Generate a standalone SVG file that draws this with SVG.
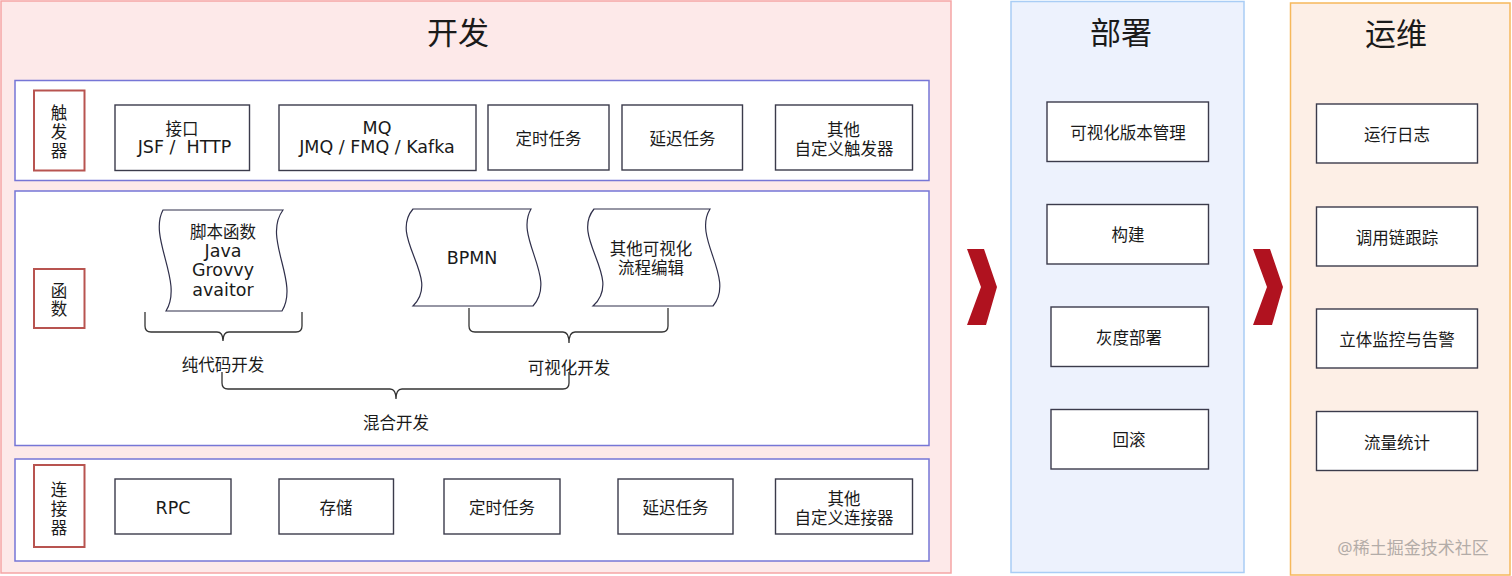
<svg xmlns="http://www.w3.org/2000/svg" width="1512" height="576" viewBox="0 0 1512 576">
<defs>
<style>
text{font-family:"Noto Sans","Noto Sans CJK SC",sans-serif;fill:#1a1a1a;text-anchor:middle;dominant-baseline:central}
.t{font-size:16.5px}
.l{font-family:"DejaVu Sans","Noto Sans CJK SC",sans-serif;font-size:17.5px}
.h{font-size:31px}
.row{fill:#ffffff;stroke:#7676d6;stroke-width:1.5}
.lbl{fill:#ffffff;stroke:#b85450;stroke-width:2}
.box{fill:#ffffff;stroke:#3b3b4b;stroke-width:1.4}
.tape{fill:#ffffff;stroke:#2f2f4a;stroke-width:1.2}
.br{fill:none;stroke:#333333;stroke-width:1.3}
.chev{fill:#b0121f}
</style>
</defs>

<g id="panel-dev">
<rect x="1" y="1" width="950" height="572" fill="#fde9e9" stroke="#f5a5a5" stroke-width="1.5"/>
<text class="h" x="458" y="32">开发</text>
</g>
<g id="panel-deploy">
<rect x="1011" y="1.5" width="233" height="571" fill="#edf2fd" stroke="#a9cdf5" stroke-width="1.5"/>
<text class="h" x="1121" y="32">部署</text>
</g>
<g id="panel-ops">
<rect x="1290.5" y="3" width="219.5" height="572" fill="#fdefe6" stroke="#f6b85b" stroke-width="1.5"/>
<text class="h" x="1396" y="33">运维</text>
</g>

<g id="row-trigger"><rect class="row" x="15" y="80.5" width="914" height="100"/></g>
<g id="row-function"><rect class="row" x="15" y="191" width="914" height="254.5"/></g>
<g id="row-connector"><rect class="row" x="15" y="459" width="914" height="102"/></g>

<g id="lbl-trigger"><rect class="lbl" x="34" y="90.5" width="50.5" height="80"/>
<text class="t" x="59" y="112">触</text><text class="t" x="59" y="131">发</text><text class="t" x="59" y="150">器</text></g>
<g id="lbl-function"><rect class="lbl" x="34" y="269" width="50.5" height="59"/>
<text class="t" x="59" y="290">函</text><text class="t" x="59" y="308">数</text></g>
<g id="lbl-connector"><rect class="lbl" x="34" y="465" width="50.5" height="82"/>
<text class="t" x="59" y="489">连</text><text class="t" x="59" y="508">接</text><text class="t" x="59" y="527">器</text></g>

<g id="t-api"><rect class="box" x="115" y="105" width="134.5" height="65.5"/>
<text class="t" x="182" y="128">接口</text><text class="l" x="184.5" y="147" xml:space="preserve">JSF /  HTTP</text></g>
<g id="t-mq"><rect class="box" x="279" y="105" width="197" height="65.5"/>
<text class="l" x="377" y="128">MQ</text><text class="l" x="377" y="147">JMQ / FMQ / Kafka</text></g>
<g id="t-timer"><rect class="box" x="488" y="105" width="121" height="65"/>
<text class="t" x="548.5" y="138">定时任务</text></g>
<g id="t-delay"><rect class="box" x="622" y="105" width="120.5" height="65"/>
<text class="t" x="682.5" y="138">延迟任务</text></g>
<g id="t-other"><rect class="box" x="775.5" y="105" width="137" height="65"/>
<text class="t" x="843.5" y="129">其他</text><text class="t" x="844" y="148">自定义触发器</text></g>

<g id="f-script"><path class="tape" d="M163,210 L283,210 C262,238 300,282 282,311 L166,311 C184,282 148,238 163,210 Z"/>
<text class="t" x="223" y="231">脚本函数</text><text class="l" x="223" y="251">Java</text><text class="l" x="223" y="270">Grovvy</text><text class="l" x="223" y="290">avaitor</text></g>
<g id="f-bpmn"><path class="tape" d="M413,209 L531,209 C514,238 558,278 533,306 L413,306 C442,278 388,238 413,209 Z"/>
<text class="l" x="472" y="258">BPMN</text></g>
<g id="f-visual"><path class="tape" d="M594,209 L710,209 C692,238 736,278 713,306 L593,306 C624,278 570,238 594,209 Z"/>
<text class="t" x="651" y="248">其他可视化</text><text class="t" x="651" y="267">流程编辑</text></g>

<g id="lbl-pure"><text class="t" x="223" y="364">纯代码开发</text></g>
<g id="lbl-visual"><text class="t" x="569" y="367.5">可视化开发</text></g>
<g id="lbl-mixed"><text class="t" x="396" y="422">混合开发</text></g>

<g id="c-rpc"><rect class="box" x="115" y="479" width="116" height="55"/><text class="l" x="173" y="507.5">RPC</text></g>
<g id="c-storage"><rect class="box" x="279" y="479" width="114.5" height="55"/><text class="t" x="336" y="507.5">存储</text></g>
<g id="c-timer"><rect class="box" x="444" y="479" width="116" height="55"/><text class="t" x="502" y="507.5">定时任务</text></g>
<g id="c-delay"><rect class="box" x="618" y="479" width="115" height="55"/><text class="t" x="675.5" y="507.5">延迟任务</text></g>
<g id="c-other"><rect class="box" x="775.5" y="479" width="137" height="55"/>
<text class="t" x="844" y="498">其他</text><text class="t" x="844" y="517.5">自定义连接器</text></g>

<g id="d-version"><rect class="box" x="1047" y="102" width="161.5" height="59.5"/><text class="t" x="1128" y="132">可视化版本管理</text></g>
<g id="d-build"><rect class="box" x="1047" y="204.5" width="161.5" height="59.5"/><text class="t" x="1128" y="234">构建</text></g>
<g id="d-gray"><rect class="box" x="1051" y="307" width="157.5" height="59.5"/><text class="t" x="1129" y="337">灰度部署</text></g>
<g id="d-rollback"><rect class="box" x="1051" y="409.5" width="157.5" height="59.5"/><text class="t" x="1129" y="439">回滚</text></g>

<g id="o-log"><rect class="box" x="1316.5" y="104" width="161" height="59"/><text class="t" x="1397" y="134">运行日志</text></g>
<g id="o-trace"><rect class="box" x="1316.5" y="207" width="161" height="59"/><text class="t" x="1397" y="237">调用链跟踪</text></g>
<g id="o-monitor"><rect class="box" x="1316.5" y="309" width="161" height="59"/><text class="t" x="1397" y="339">立体监控与告警</text></g>
<g id="o-traffic"><rect class="box" x="1316.5" y="411.5" width="161" height="59"/><text class="t" x="1397" y="442">流量统计</text></g>

<g id="connectors">
<path class="br" d="M145,312 L145,326 Q145,332 151,332 L217,332 Q223,332 223,341 Q223,332 229,332 L296,332 Q302,332 302,326 L302,312"/>
<path class="br" d="M469,308 L469,326 Q469,332 475,332 L563,332 Q569,332 569,343 Q569,332 575,332 L662,332 Q668,332 668,326 L668,308"/>
<path class="br" d="M222,372 L222,383 Q222,389 228,389 L390,389 Q396,389 396,399 Q396,389 402,389 L563,389 Q569,389 569,383 L569,372"/>
<polygon class="chev" points="967,249 984,249 997,287 986,325 967,325 981,287"/>
<polygon class="chev" points="1253,249 1270,249 1283,287 1272,325 1253,325 1267,287"/>
</g>

<g id="watermark"><text x="1413" y="547" style="font-size:17px;fill:#b3aca8">@稀土掘金技术社区</text></g>
</svg>
